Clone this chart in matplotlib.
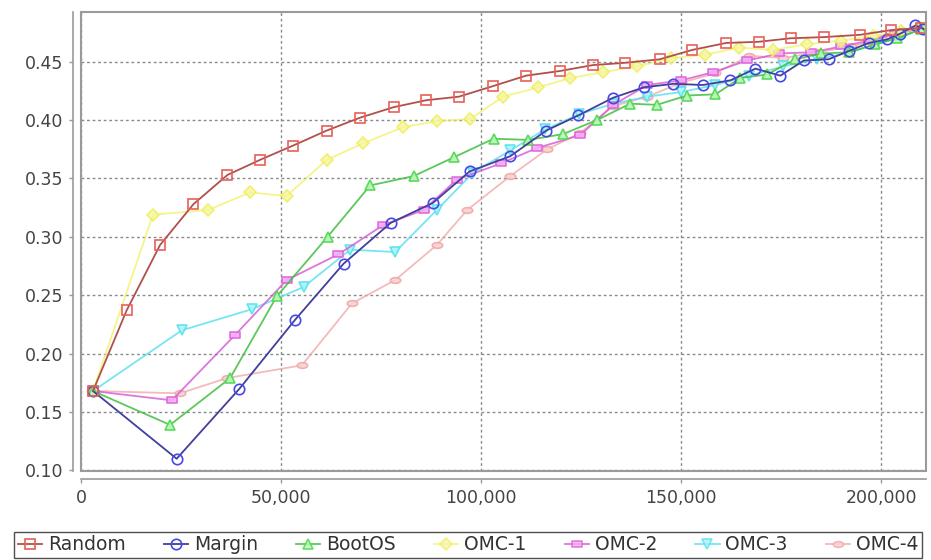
#!/usr/bin/env python3
"""
Learning curves: accuracy vs. number of labelled samples for the selection strategies
"""

import numpy as np
import matplotlib
matplotlib.use('Agg')
import matplotlib.pyplot as plt
from matplotlib.path import Path
from matplotlib.patches import Rectangle
from matplotlib.ticker import FuncFormatter

# Series data
random_x = [3000, 11400, 19750, 28100, 36600, 44800, 52900, 61400, 69700, 78100, 86300, 94400, 102900,
            111200, 119700, 127800, 135900, 144600, 152700, 161200, 169300, 177300, 185600, 194700, 202400, 210000]
random_y = [0.168, 0.237, 0.293, 0.328, 0.353, 0.366, 0.378, 0.391, 0.402, 0.411, 0.417, 0.420, 0.429,
            0.438, 0.442, 0.447, 0.449, 0.452, 0.460, 0.466, 0.467, 0.470, 0.471, 0.473, 0.477, 0.479]

margin_x = [3000, 23900, 39600, 53500, 65600, 77400, 87900, 97100, 107250, 116250, 124300, 132900, 140600,
            148000, 155400, 162250, 168500, 174750, 180600, 186800, 191800, 196800, 201400, 204750, 208500, 210500]
margin_y = [0.168, 0.110, 0.170, 0.229, 0.277, 0.312, 0.329, 0.356, 0.369, 0.391, 0.404, 0.419, 0.428,
            0.431, 0.430, 0.434, 0.444, 0.438, 0.451, 0.452, 0.459, 0.466, 0.469, 0.474, 0.481, 0.478]

bootos_x = [3000, 22250, 37250, 48900, 61600, 72250, 83100, 93100, 103100, 111800, 120500, 128900,
            137250, 143900, 151400, 158500, 164750, 171400, 178500, 185000, 192000, 198500, 204000, 210000]
bootos_y = [0.168, 0.139, 0.179, 0.249, 0.300, 0.344, 0.352, 0.368, 0.384, 0.383, 0.388, 0.400,
            0.414, 0.413, 0.421, 0.422, 0.436, 0.439, 0.452, 0.457, 0.458, 0.465, 0.470, 0.478]

omc1_x = [3000, 18000, 31800, 42250, 51400, 61400, 70500, 80500, 89000, 97250, 105500, 114250,
          122250, 130500, 139000, 147500, 156000, 164500, 173000, 181500, 190000, 198000, 205000, 210000]
omc1_y = [0.168, 0.319, 0.323, 0.338, 0.335, 0.366, 0.380, 0.394, 0.399, 0.401, 0.420, 0.428,
          0.436, 0.441, 0.446, 0.453, 0.456, 0.462, 0.460, 0.465, 0.468, 0.472, 0.476, 0.479]

omc2_x = [3000, 22700, 38500, 51400, 64300, 75500, 85600, 93900, 105000, 113900, 124700, 133000,
          141500, 150000, 158000, 166500, 174500, 182500, 190000, 197000, 203500, 210000]
omc2_y = [0.168, 0.160, 0.216, 0.263, 0.285, 0.310, 0.323, 0.349, 0.363, 0.376, 0.387, 0.413,
          0.430, 0.434, 0.441, 0.451, 0.457, 0.458, 0.463, 0.468, 0.474, 0.479]

omc3_x = [3000, 25200, 42700, 55600, 67250, 78500, 88900, 98000, 107250, 116000, 124500, 133000,
          141500, 150000, 158500, 167000, 175500, 184000, 192000, 199000, 205000, 210000]
omc3_y = [0.168, 0.220, 0.238, 0.257, 0.289, 0.287, 0.323, 0.355, 0.374, 0.392, 0.405, 0.414,
          0.420, 0.424, 0.430, 0.438, 0.446, 0.452, 0.458, 0.465, 0.471, 0.478]

omc4_x = [3000, 24750, 36400, 55200, 67700, 78500, 88900, 96500, 107250, 116500, 124750, 133000,
          141500, 150000, 158500, 167000, 175500, 184000, 192500, 200000, 206000, 210000]
omc4_y = [0.168, 0.166, 0.179, 0.190, 0.243, 0.263, 0.293, 0.323, 0.352, 0.375, 0.389, 0.412,
          0.420, 0.432, 0.440, 0.455, 0.453, 0.458, 0.463, 0.470, 0.476, 0.479]

labels = ['Random', 'Margin', 'BootOS', 'OMC-1', 'OMC-2', 'OMC-3', 'OMC-4']
y_ticks = [0.10, 0.15, 0.20, 0.25, 0.30, 0.35, 0.40, 0.45]
x_ticks = [0, 50000, 100000, 150000, 200000]

# JFreeChart-like marker shapes
rect_marker = Path([(-1, -0.55), (1, -0.55), (1, 0.55), (-1, 0.55), (-1, -0.55)],
                   [Path.MOVETO, Path.LINETO, Path.LINETO, Path.LINETO, Path.CLOSEPOLY])
_circ = Path.unit_circle()
ellipse_marker = Path(_circ.vertices * np.array([1.0, 0.55]), _circ.codes)

styles = [
    # line colour, marker edge, marker face, marker, line alpha
    ('#b0504c', '#e8605a', 'none', 's', 1.0),
    ('#40409a', '#4848e6', 'none', 'o', 1.0),
    ('#3fbf3f', '#55d855', '#b8f5b8', '^', 0.85),
    ('#f0f05a', '#eeee55', '#f6f6a0', 'D', 0.7),
    ('#d455d4', '#e060e0', '#f0b0f0', rect_marker, 0.8),
    ('#55dfee', '#55e2ee', '#b0f2f8', 'v', 0.8),
    ('#f0aaaa', '#f0a8a8', '#f8d4d4', ellipse_marker, 0.8),
]

series = [(random_x, random_y), (margin_x, margin_y), (bootos_x, bootos_y), (omc1_x, omc1_y),
          (omc2_x, omc2_y), (omc3_x, omc3_y), (omc4_x, omc4_y)]

fig = plt.figure(figsize=(9.31, 5.60), dpi=100)
ax = fig.add_axes([81 / 931, 1 - 471 / 560, (925.5 - 81) / 931, (471 - 12) / 560])

handles = []
n = len(series)
for i, ((xs, ys), (lc, mec, mfc, mk, la), lab) in enumerate(zip(series, styles, labels)):
    ms = 6 if mk == 'D' else 7.5
    ax.plot(xs, ys, color=lc, linewidth=1.3, alpha=la, zorder=10 + (n - i))
    ax.plot(xs, ys, linestyle='none', marker=mk, markersize=ms,
            markeredgecolor=mec, markerfacecolor=mfc, markeredgewidth=1.2,
            alpha=min(1.0, la + 0.1), zorder=10 + (n - i) + 0.5)
    # legend proxy: line through marker
    proxy, = ax.plot([], [], color=lc, linewidth=1.3, marker=mk, markersize=ms,
                     markeredgecolor=mec, markerfacecolor=mfc, markeredgewidth=1.2, alpha=la)
    handles.append(proxy)

ax.set_xlim(0, 211000)
ax.set_ylim(0.0995, 0.4925)
ax.set_xticks(x_ticks)
ax.set_yticks(y_ticks)
ax.xaxis.set_major_formatter(FuncFormatter(lambda v, p: f'{int(v):,}'))
ax.yaxis.set_major_formatter(FuncFormatter(lambda v, p: f'{v:.2f}'))

ax.grid(True, color='#8a8a8a', linestyle=(0, (2, 2)), linewidth=1.0)
ax.set_axisbelow(True)

# axis lines drawn slightly away from the plot area, plus plot outline
for side in ('top', 'right'):
    ax.spines[side].set_visible(False)
for side in ('left', 'bottom'):
    ax.spines[side].set_position(('outward', 6))
    ax.spines[side].set_color('#9a9a9a')
    ax.spines[side].set_linewidth(1.2)
ax.add_patch(Rectangle((0, 0), 1, 1, transform=ax.transAxes, fill=False,
                       edgecolor='#9a9a9a', linewidth=1.5, zorder=30, clip_on=False))

ax.tick_params(axis='both', colors='#9a9a9a', labelcolor='#444444', labelsize=12.5,
               length=3, width=1, direction='out', pad=4)

fig.legend(handles=handles, labels=labels, loc='lower left',
           bbox_to_anchor=(14 / 931, 2 / 560, 908 / 931, 32 / 560), mode='expand',
           ncol=7, frameon=True, fancybox=False, edgecolor='#222222', fontsize=13.5,
           handlelength=1.3, handletextpad=0.3, columnspacing=0.5, borderpad=0.2,
           borderaxespad=0.0, labelcolor='#333333')

fig.savefig('out.png', dpi=100)
